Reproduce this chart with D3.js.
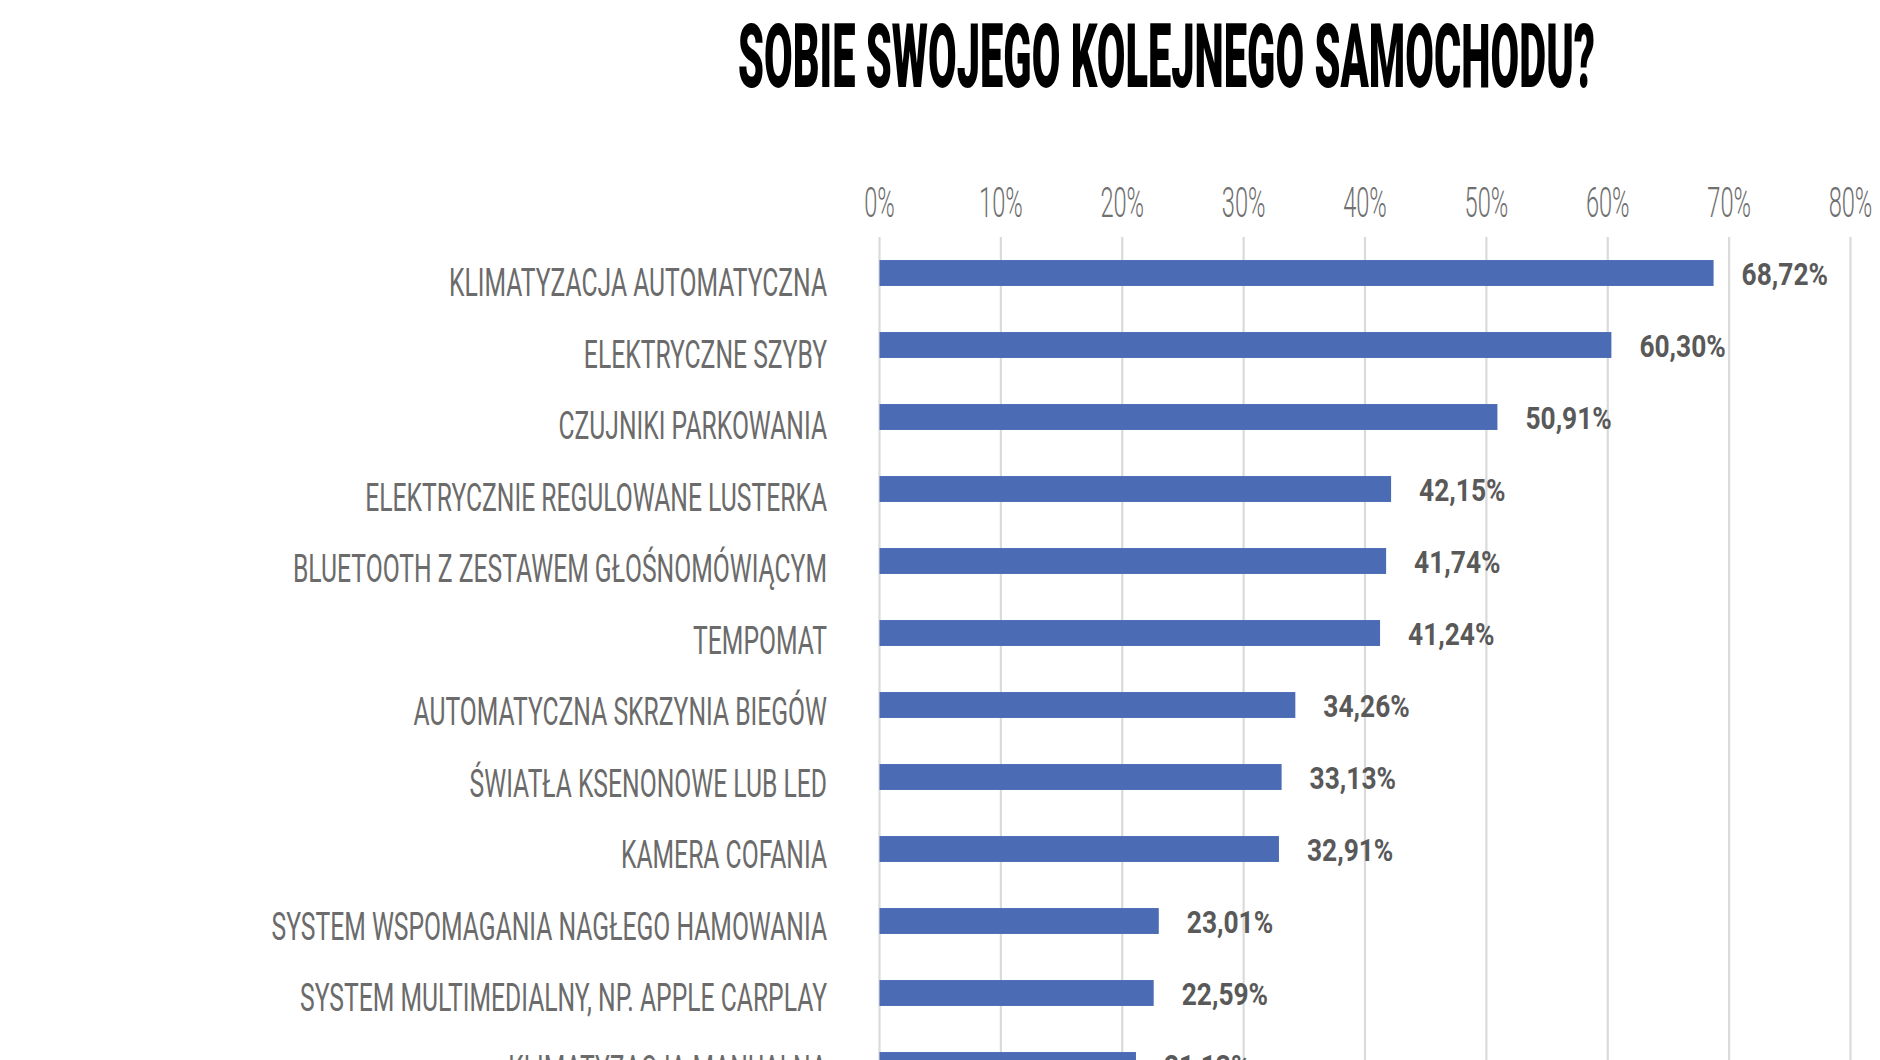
<!DOCTYPE html>
<html>
<head>
<meta charset="utf-8">
<script src="https://cdn.jsdelivr.net/npm/d3@7"></script>
<style>
    body { margin: 0; background: #fff; }
    svg { display: block; }
</style>
</head>
<body>
<div id="chart"></div>
<script>

var titleText = "SOBIE SWOJEGO KOLEJNEGO SAMOCHODU?";

var categories = [
    "KLIMATYZACJA AUTOMATYCZNA",
    "ELEKTRYCZNE SZYBY",
    "CZUJNIKI PARKOWANIA",
    "ELEKTRYCZNIE REGULOWANE LUSTERKA",
    "BLUETOOTH Z ZESTAWEM GŁOŚNOMÓWIĄCYM",
    "TEMPOMAT",
    "AUTOMATYCZNA SKRZYNIA BIEGÓW",
    "ŚWIATŁA KSENONOWE LUB LED",
    "KAMERA COFANIA",
    "SYSTEM WSPOMAGANIA NAGŁEGO HAMOWANIA",
    "SYSTEM MULTIMEDIALNY, NP. APPLE CARPLAY",
    "KLIMATYZACJA MANUALNA"
];

var values = [68.72, 60.30, 50.91, 42.15, 41.74, 41.24, 34.26, 33.13, 32.91, 23.01, 22.59, 21.13];

var tickValues = [0, 10, 20, 30, 40, 50, 60, 70, 80];

(function() {
    var width = 1880;
    var height = 1060;

    var svg = d3.select("#chart").append("svg")
        .attr("width", width)
        .attr("height", height);

    var rows = categories.map(function(c, i) {
        return { name: c, value: values[i] };
    });

    var x = d3.scaleLinear().domain([0, 80]).range([879.5, 1850.5]);

    var y = d3.scaleBand()
        .domain(categories)
        .range([237, 237 + 72 * categories.length])
        .paddingInner(0.64)
        .paddingOuter(0.32);

    // labels drift a little tighter than the bars
    var yLabel = d3.scaleBand()
        .domain(categories)
        .range([237, 237 + 71.5 * categories.length])
        .paddingInner(0.64)
        .paddingOuter(0.32);

    // title (first line is cut off in the source)
    svg.append("text")
        .attr("x", 738)
        .attr("y", 87)
        .attr("textLength", 857)
        .attr("lengthAdjust", "spacingAndGlyphs")
        .attr("font-family", "Roboto")
        .attr("font-weight", 900)
        .attr("font-size", "89px")
        .attr("fill", "#000")
        .text(titleText);

    // gridlines
    svg.append("g")
        .selectAll("line")
        .data(tickValues)
        .enter()
        .append("line")
        .attr("x1", function(d) { return x(d); })
        .attr("x2", function(d) { return x(d); })
        .attr("y1", 237)
        .attr("y2", height)
        .attr("stroke", "#dadada")
        .attr("stroke-width", 2.2);

    // top axis labels
    svg.append("g")
        .selectAll("text")
        .data(tickValues)
        .enter()
        .append("text")
        .attr("transform", function(d) { return "translate(" + x(d) + ",217) scale(0.55,1)"; })
        .attr("text-anchor", "middle")
        .attr("font-family", "Roboto")
        .attr("font-weight", 300)
        .attr("font-size", "43px")
        .attr("fill", "#707070")
        .text(function(d) { return d + "%"; });

    // bars
    svg.append("g")
        .selectAll("rect")
        .data(rows)
        .enter()
        .append("rect")
        .attr("x", x(0))
        .attr("y", function(d) { return y(d.name); })
        .attr("width", function(d) { return x(d.value) - x(0); })
        .attr("height", y.bandwidth())
        .attr("fill", "#4b6cb4");

    // category labels
    svg.append("g")
        .selectAll("text")
        .data(rows)
        .enter()
        .append("text")
        .attr("transform", function(d) {
            return "translate(827," + (yLabel(d.name) + yLabel.bandwidth() / 2 + 23.5) + ") scale(0.65,1)";
        })
        .attr("text-anchor", "end")
        .attr("font-family", "Roboto")
        .attr("font-weight", 400)
        .attr("font-size", "38px")
        .attr("fill", "#6b6b6b")
        .text(function(d) { return d.name; });

    // value labels
    var fmt = d3.format(".2f");
    svg.append("g")
        .selectAll("text")
        .data(rows)
        .enter()
        .append("text")
        .attr("transform", function(d) {
            return "translate(" + (x(d.value) + 28) + "," + (y(d.name) + y.bandwidth() / 2 + 12) + ") scale(0.85,1)";
        })
        .attr("font-family", "Roboto")
        .attr("font-weight", 700)
        .attr("font-size", "31px")
        .attr("fill", "#595959")
        .text(function(d) { return fmt(d.value).replace(".", ",") + "%"; });

})();
</script>
</body>
</html>
